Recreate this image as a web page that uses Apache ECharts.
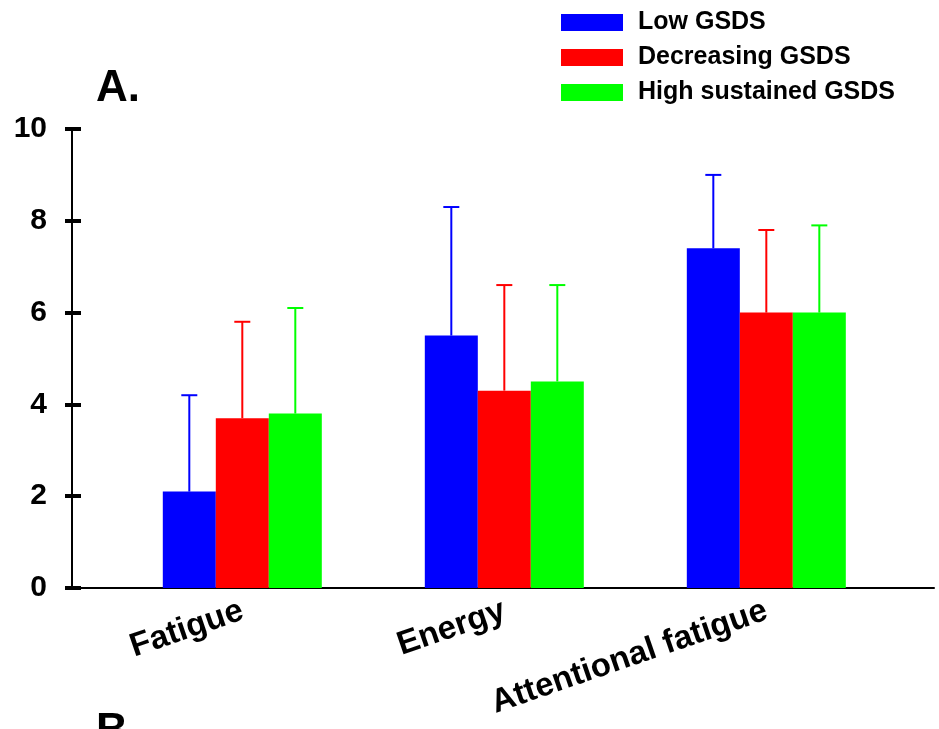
<!DOCTYPE html>
<html>
<head>
<meta charset="utf-8">
<script src="https://cdn.jsdelivr.net/npm/echarts@6/dist/echarts.min.js"></script>
<style>
  html, body { margin: 0; padding: 0; background: #ffffff; }
  #chart { width: 939px; height: 729px; }
</style>
</head>
<body>
<div id="chart"></div>
<script>
// Symptom categories along the x axis
const categories = ['Fatigue', 'Energy', 'Attentional fatigue'];

// Group names (legend)
const groupNames = ['Low GSDS', 'Decreasing GSDS', 'High sustained GSDS'];

// Group means per category
const lowMeans = [2.1, 5.5, 7.4];
const decreasingMeans = [3.7, 4.3, 6.0];
const highMeans = [3.8, 4.5, 6.0];

// Standard deviations (upper whisker length) per category
const lowSD = [2.1, 2.8, 1.6];
const decreasingSD = [2.1, 2.3, 1.8];
const highSD = [2.3, 2.1, 1.9];

// Y axis ticks
const yTicks = [0, 2, 4, 6, 8, 10];

const colors = ['#0000ff', '#ff0000', '#00ff00'];
const FONT = "'Liberation Sans', Arial, Helvetica, sans-serif";
const BAR_W = 53;

const means = [lowMeans, decreasingMeans, highMeans];
const sds = [lowSD, decreasingSD, highSD];

const chart = echarts.init(document.getElementById('chart'), null, { renderer: 'canvas' });

const barSeries = groupNames.map((name, g) => ({
  name: name,
  type: 'bar',
  barWidth: BAR_W,
  barGap: '0%',
  itemStyle: { color: colors[g] },
  data: means[g].map((m, i) => [i, m]),
  z: 3
}));

// Upper-only error bars with caps, shifted to sit over each group's bar
const errorSeries = groupNames.map((name, g) => ({
  type: 'custom',
  name: name + ' SD',
  z: 2,
  silent: true,
  data: means[g].map((m, i) => [i, m, m + sds[g][i]]),
  renderItem: function (params, api) {
    const base = api.coord([api.value(0), api.value(1)]);
    const top = api.coord([api.value(0), api.value(2)]);
    const x = base[0] + (g - 1) * BAR_W;
    const capHalf = 8;
    const style = { stroke: colors[g], lineWidth: 2 };
    return {
      type: 'group',
      children: [
        { type: 'line', shape: { x1: x, y1: base[1], x2: x, y2: top[1] }, style: style },
        { type: 'line', shape: { x1: x - capHalf, y1: top[1], x2: x + capHalf, y2: top[1] }, style: style }
      ]
    };
  }
}));

chart.setOption({
  animation: false,
  backgroundColor: '#ffffff',
  textStyle: { fontFamily: FONT },
  title: [
    { text: 'A.', left: 91, top: 62, textStyle: { fontFamily: FONT, fontSize: 44, fontWeight: 'bold', color: '#000' } },
    { text: 'B.', left: 91, top: 705, textStyle: { fontFamily: FONT, fontSize: 44, fontWeight: 'bold', color: '#000' } }
  ],
  legend: {
    orient: 'vertical',
    left: 556,
    top: 5,
    icon: 'rect',
    itemWidth: 62,
    itemHeight: 17,
    itemGap: 10,
    data: groupNames,
    textStyle: { fontFamily: FONT, fontSize: 25, fontWeight: 'bold', color: '#000', padding: [0, 0, 0, 10] }
  },
  grid: { left: 72, right: 5, top: 129, bottom: 141, containLabel: false, outerBoundsMode: 'none' },
  xAxis: {
    type: 'value',
    min: -0.65,
    max: 2.64,
    splitLine: { show: false },
    axisTick: { show: false },
    axisLine: { show: true, onZero: false, lineStyle: { color: '#000', width: 2 } },
    axisLabel: {
      customValues: [0, 1, 2],
      formatter: function (v) { return categories[Math.round(v)]; },
      rotate: 19,
      margin: 22,
      fontFamily: FONT,
      fontSize: 33,
      fontWeight: 'bold',
      color: '#000'
    }
  },
  yAxis: [
    {
      type: 'value',
      min: yTicks[0],
      max: yTicks[yTicks.length - 1],
      interval: 2,
      splitLine: { show: false },
      axisLine: { show: true, onZero: false, lineStyle: { color: '#000', width: 2 } },
      axisTick: { show: true, length: 7, lineStyle: { color: '#000', width: 4 } },
      axisLabel: { margin: 25, fontFamily: FONT, fontSize: 30, fontWeight: 'bold', color: '#000' }
    },
    {
      // inner half of the crossing tick marks
      type: 'value',
      position: 'left',
      min: yTicks[0],
      max: yTicks[yTicks.length - 1],
      interval: 2,
      splitLine: { show: false },
      axisLine: { show: false, onZero: false },
      axisLabel: { show: false },
      axisTick: { show: true, inside: true, length: 9, lineStyle: { color: '#000', width: 4 } }
    }
  ],
  series: barSeries.concat(errorSeries)
});
</script>
</body>
</html>
